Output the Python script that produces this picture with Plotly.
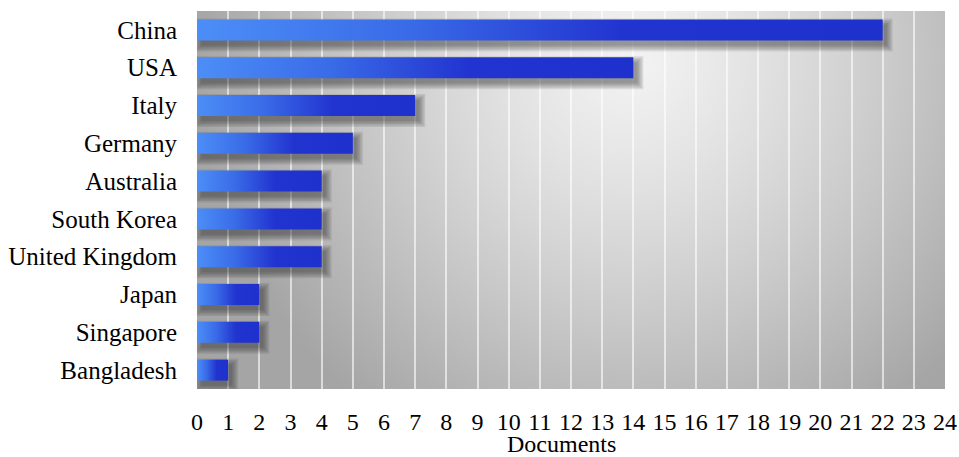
import base64
import struct
import zlib

import numpy as np
import plotly.graph_objects as go

# Documents per country
countries = ["China", "USA", "Italy", "Germany", "Australia", "South Korea",
             "United Kingdom", "Japan", "Singapore", "Bangladesh"]
documents = [22, 14, 7, 5, 4, 4, 4, 2, 2, 1]
x_ticks = list(range(0, 25))
x_title = "Documents"

# Layout geometry (pixels)
W, H = 959, 457
M_L, M_R, M_T, M_B = 197, 14, 11, 68
PLOT_W = W - M_L - M_R
PLOT_H = H - M_T - M_B
X_MAX = 24
N = len(countries)
PX_X = X_MAX / PLOT_W          # data units per pixel, x
PX_Y = N / PLOT_H              # data units per pixel, y
HALF_BAR = 0.278

FONT = "Liberation Serif, Times New Roman, serif"
FS = 25
FS_X = 24


def png_data_uri(gray):
    """Encode a 2-D uint8 array as a grayscale PNG data URI."""
    h, w = gray.shape
    raw = b"".join(b"\x00" + gray[r].tobytes() for r in range(h))

    def chunk(tag, data):
        c = struct.pack(">I", len(data)) + tag + data
        return c + struct.pack(">I", zlib.crc32(tag + data) & 0xFFFFFFFF)

    png = b"\x89PNG\r\n\x1a\n"
    png += chunk(b"IHDR", struct.pack(">IIBBBBB", w, h, 8, 0, 0, 0, 0))
    png += chunk(b"IDAT", zlib.compress(raw, 9))
    png += chunk(b"IEND", b"")
    return "data:image/png;base64," + base64.b64encode(png).decode()


# Soft radial grey backdrop for the plotting area
bw, bh = 374, 189
xs = (np.arange(bw) + 0.5) / bw
ys = (np.arange(bh) + 0.5) / bh
gx, gy = np.meshgrid(xs, ys)
dx = (gx - 0.58) * PLOT_W
dy = (gy - 0.12) * PLOT_H
t = np.sqrt(dx ** 2 + (dy * 1.0) ** 2) / 440.0
val = 243 - 78 * np.clip(t, 0, 1) ** 1.25
val = np.clip(val, 165, 250).astype(np.uint8)
bg_uri = png_data_uri(val)

fig = go.Figure()

# Drop shadows: stacked translucent rectangles, offset down-right
SH_DX, SH_DY = 4, 5
for v_i, (name, v) in enumerate(zip(countries, documents)):
    for grow in [6, 4.5, 3, 1.5, 0]:
        ex = grow * PX_X
        ey = grow * PX_Y
        x0 = SH_DX * PX_X - ex + 0.5 * PX_X
        x1 = v + SH_DX * PX_X + ex
        y0 = v_i - HALF_BAR + SH_DY * PX_Y - ey
        y1 = v_i + HALF_BAR + SH_DY * PX_Y + ey
        fig.add_trace(go.Scatter(
            x=[x0, x1, x1, x0, x0], y=[y0, y0, y1, y1, y0],
            mode="lines", fill="toself", line=dict(width=0),
            fillcolor="rgba(40,40,40,0.11)", hoverinfo="skip", showlegend=False,
        ))

# Bars with a left-to-right blue gradient
for v_i, (name, v) in enumerate(zip(countries, documents)):
    y0, y1 = v_i - HALF_BAR, v_i + HALF_BAR
    fig.add_trace(go.Scatter(
        x=[0, v, v, 0, 0], y=[y0, y0, y1, y1, y0],
        mode="lines", fill="toself", line=dict(width=0),
        fillgradient=dict(
            type="horizontal",
            colorscale=[[0, "#4c8ef7"], [0.3, "#3a6ce8"],
                        [0.62, "#2234d0"], [1, "#1f31cc"]],
        ),
        name=name, hovertemplate=f"{name}: {v}<extra></extra>",
        showlegend=False,
    ))

fig.update_layout(
    width=W, height=H,
    margin=dict(l=M_L, r=M_R, t=M_T, b=M_B, autoexpand=False),
    paper_bgcolor="white",
    plot_bgcolor="rgba(0,0,0,0)",
    font=dict(family=FONT, size=FS, color="black"),
    images=[dict(
        source=bg_uri, xref="x domain", yref="y domain",
        x=0, y=1, sizex=1, sizey=1, xanchor="left", yanchor="top",
        sizing="stretch", layer="below",
    )],
    annotations=[dict(
        text=x_title, xref="paper", yref="paper", x=0.487, y=0,
        xanchor="center", yanchor="middle", yshift=-55, showarrow=False,
        borderpad=0, font=dict(family=FONT, size=FS_X, color="black"),
    )],
    xaxis=dict(
        range=[0, X_MAX], tickmode="array", tickvals=x_ticks,
        ticktext=[str(v) for v in x_ticks],
        showgrid=True, gridcolor="rgba(255,255,255,0.6)", gridwidth=2,
        zeroline=False, showline=False, automargin=False,
        ticks="outside", ticklen=11, tickcolor="rgba(0,0,0,0)",
        tickfont=dict(family=FONT, size=FS_X),
    ),
    yaxis=dict(
        range=[N - 0.5, -0.5], tickmode="array",
        tickvals=list(range(N)), ticktext=countries,
        showgrid=False, zeroline=False, showline=False, automargin=False,
        ticks="outside", ticklen=14, tickcolor="rgba(0,0,0,0)",
        tickfont=dict(family=FONT, size=FS),
    ),
)

fig.write_html("out.html")
